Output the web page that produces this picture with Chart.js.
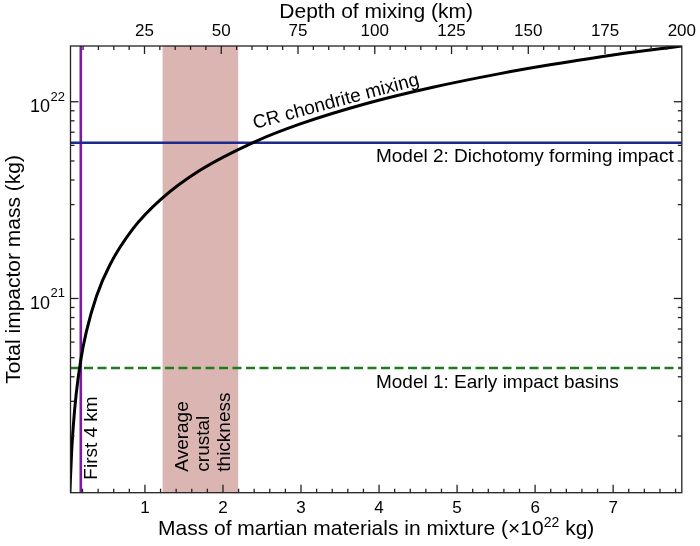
<!DOCTYPE html>
<html>
<head>
<meta charset="utf-8">
<script src="https://cdn.jsdelivr.net/npm/chart.js"></script>
<style>
  html, body { margin: 0; padding: 0; background: #fff; }
  #wrap { width: 700px; height: 546px; position: relative; }
</style>
</head>
<body>
<div id="wrap"><canvas id="grafico"></canvas></div>
<script>
// dados
const massMixture = [0.037, 0.06, 0.08, 0.12, 0.18, 0.25, 0.38, 0.55, 0.85, 1.2, 1.7, 2.4, 3.0, 3.84, 4.69, 5.55, 6.19, 7.04, 7.88];
const impactorMass = [1.01e20, 1.65e20, 2.2e20, 3.3e20, 4.93e20, 6.8e20, 1.03e21, 1.48e21, 2.27e21, 3.18e21, 4.47e21, 6.24e21, 7.74e21, 9.8e21, 1.185e22, 1.39e22, 1.54e22, 1.74e22, 1.92e22];
const model1Mass = 4.43e20;   // Early impact basins
const model2Mass = 6.19e21;   // Dichotomy forming impact
const first4km = 0.178;       // massa dos primeiros 4 km
const crustBand = [1.226, 2.195];

const xMin = 0.046, xMax = 7.88;
const depthMin = 0.9, depthMax = 200;
const yMin = 1.03e20, yMax = 1.92e22;
const xTickLabels = [1, 2, 3, 4, 5, 6, 7];
const depthTickLabels = [25, 50, 75, 100, 125, 150, 175, 200];
const yTickExps = [21, 22];

const FONT = '"Liberation Sans", Arial, Helvetica, sans-serif';
Chart.defaults.font.family = FONT;
Chart.defaults.color = '#000';

// faixa da crosta media
const bandPlugin = {
  id: 'bandPlugin',
  beforeDatasetsDraw(chart) {
    const { ctx, chartArea: a, scales } = chart;
    const x0 = scales.x.getPixelForValue(crustBand[0]);
    const x1 = scales.x.getPixelForValue(crustBand[1]);
    ctx.save();
    ctx.fillStyle = '#dbb5b2';
    ctx.fillRect(x0, a.top, x1 - x0, a.bottom - a.top);
    ctx.restore();
  }
};

// moldura, ticks para dentro e textos
const framePlugin = {
  id: 'framePlugin',
  afterDatasetsDraw(chart) {
    const { ctx, chartArea: a, scales } = chart;
    const line = (x0, y0, x1, y1) => { ctx.beginPath(); ctx.moveTo(x0, y0); ctx.lineTo(x1, y1); ctx.stroke(); };
    ctx.save();
    ctx.strokeStyle = '#222';
    ctx.lineWidth = 1.3;
    ctx.strokeRect(a.left, a.top, a.right - a.left, a.bottom - a.top);

    for (let i = 1; i * 0.2 < xMax; i++) {
      const px = scales.x.getPixelForValue(i * 0.2);
      line(px, a.bottom, px, a.bottom - (i % 5 === 0 ? 8 : 4));
    }
    for (let d = 5; d < depthMax; d += 5) {
      const px = scales.x2.getPixelForValue(d);
      line(px, a.top, px, a.top + (d % 25 === 0 ? 8 : 4));
    }
    for (let e = 20; e <= 22; e++) {
      for (let k = 1; k <= 9; k++) {
        const v = k * Math.pow(10, e);
        if (v <= yMin || v >= yMax) continue;
        const py = scales.y.getPixelForValue(v);
        const len = k === 1 ? 8 : 4;
        line(a.left, py, a.left + len, py);
        line(a.right, py, a.right - len, py);
      }
    }

    ctx.fillStyle = '#000';
    ctx.textBaseline = 'alphabetic';

    // rotulos do eixo y com expoente
    yTickExps.forEach(e => {
      const py = scales.y.getPixelForValue(Math.pow(10, e));
      const right = a.left - 5.5;
      ctx.textAlign = 'right';
      ctx.font = '13px ' + FONT;
      const ws = ctx.measureText(String(e)).width;
      ctx.fillText(String(e), right, py - 1);
      ctx.font = '18px ' + FONT;
      ctx.fillText('10', right - ws - 0.5, py + 10.5);
    });

    // titulo do eixo x com expoente
    {
      const parts = [
        ['Mass of martian materials in mixture (×10', 21, 0],
        ['22', 14, -8.5],
        [' kg)', 21, 0]
      ];
      let total = 0;
      parts.forEach(p => { ctx.font = p[1] + 'px ' + FONT; p.push(ctx.measureText(p[0]).width); total += p[3]; });
      let x = (a.left + a.right) / 2 - total / 2;
      const base = a.bottom + 42.5;
      ctx.textAlign = 'left';
      parts.forEach(p => {
        ctx.font = p[1] + 'px ' + FONT;
        ctx.fillText(p[0], x, base + p[2]);
        x += p[3];
      });
    }

    ctx.font = '19px ' + FONT;
    ctx.textBaseline = 'middle';

    // CR chondrite mixing
    ctx.save();
    ctx.translate(scales.x.getPixelForValue(3.45), scales.y.getPixelForValue(1.0e22));
    ctx.rotate(-15 * Math.PI / 180);
    ctx.textAlign = 'center';
    ctx.fillText('CR chondrite mixing', 0, 0);
    ctx.restore();

    ctx.textAlign = 'left';
    ctx.fillText('Model 2: Dichotomy forming impact', scales.x.getPixelForValue(3.96), scales.y.getPixelForValue(model2Mass) + 14);
    ctx.fillText('Model 1: Early impact basins', scales.x.getPixelForValue(3.96), scales.y.getPixelForValue(model1Mass) + 15);

    // textos verticais
    const vText = (lines, cx, by, gap) => {
      lines.forEach((t, i) => {
        ctx.save();
        ctx.translate(cx + (i - (lines.length - 1) / 2) * gap, by);
        ctx.rotate(-Math.PI / 2);
        ctx.textAlign = 'left';
        ctx.fillText(t, 0, 0);
        ctx.restore();
      });
    };
    vText(['First 4 km'], scales.x.getPixelForValue(first4km) + 11, a.bottom - 13, 0);
    const bandMid = (scales.x.getPixelForValue(crustBand[0]) + scales.x.getPixelForValue(crustBand[1])) / 2;
    vText(['Average', 'crustal', 'thickness'], bandMid + 3, a.bottom - 21, 21);

    ctx.restore();
  }
};

const ctx = document.getElementById('grafico').getContext('2d');
new Chart(ctx, {
  type: 'line',
  data: {
    datasets: [
      {
        label: 'CR chondrite mixing',
        data: massMixture.map((m, i) => ({ x: m, y: impactorMass[i] })),
        borderColor: '#000',
        borderWidth: 3,
        pointRadius: 0,
        cubicInterpolationMode: 'monotone'
      },
      {
        label: 'Model 2',
        data: [{ x: xMin, y: model2Mass }, { x: xMax, y: model2Mass }],
        borderColor: '#1b2a8c',
        borderWidth: 2.5,
        pointRadius: 0
      },
      {
        label: 'Model 1',
        data: [{ x: xMin, y: model1Mass }, { x: xMax, y: model1Mass }],
        borderColor: '#1e7b1e',
        borderWidth: 2.5,
        borderDash: [9, 4.5],
        pointRadius: 0
      },
      {
        label: 'First 4 km',
        data: [{ x: first4km, y: yMin }, { x: first4km, y: yMax }],
        borderColor: '#7b1aa6',
        borderWidth: 2.6,
        pointRadius: 0
      }
    ]
  },
  options: {
    responsive: true,
    maintainAspectRatio: false,
    animation: false,
    layout: { padding: { right: 18 } },
    plugins: {
      legend: { display: false },
      tooltip: { enabled: false }
    },
    scales: {
      x: {
        type: 'linear',
        position: 'bottom',
        min: xMin,
        max: xMax,
        afterFit: s => { s.height = 53.3; },
        grid: { display: false, drawTicks: false },
        border: { display: false },
        ticks: {
          stepSize: 1,
          autoSkip: false,
          maxRotation: 0,
          padding: 5,
          font: { size: 17 },
          color: '#000',
          callback: v => xTickLabels.includes(Math.round(v)) && Math.abs(v - Math.round(v)) < 1e-9 ? String(Math.round(v)) : ''
        },
        title: { display: false }
      },
      x2: {
        type: 'linear',
        position: 'top',
        min: depthMin,
        max: depthMax,
        afterFit: s => { s.height = 46; },
        grid: { display: false, drawTicks: false },
        border: { display: false },
        ticks: {
          stepSize: 25,
          autoSkip: false,
          maxRotation: 0,
          padding: 4,
          font: { size: 17 },
          color: '#000',
          callback: v => depthTickLabels.includes(Math.round(v)) && Math.abs(v - Math.round(v)) < 1e-9 ? String(Math.round(v)) : ''
        },
        title: {
          display: true,
          text: 'Depth of mixing (km)',
          font: { size: 21, lineHeight: 1 },
          color: '#000',
          padding: { top: 2, bottom: 0 }
        }
      },
      y: {
        type: 'logarithmic',
        position: 'left',
        min: yMin,
        max: yMax,
        afterFit: s => { s.width = 70.5; },
        grid: { display: false, drawTicks: false },
        border: { display: false },
        ticks: { display: false },
        title: {
          display: true,
          text: 'Total impactor mass (kg)',
          font: { size: 21, lineHeight: 1 },
          color: '#000',
          padding: { top: 3.5, bottom: 0 }
        }
      }
    }
  },
  plugins: [bandPlugin, framePlugin]
});
</script>
</body>
</html>
